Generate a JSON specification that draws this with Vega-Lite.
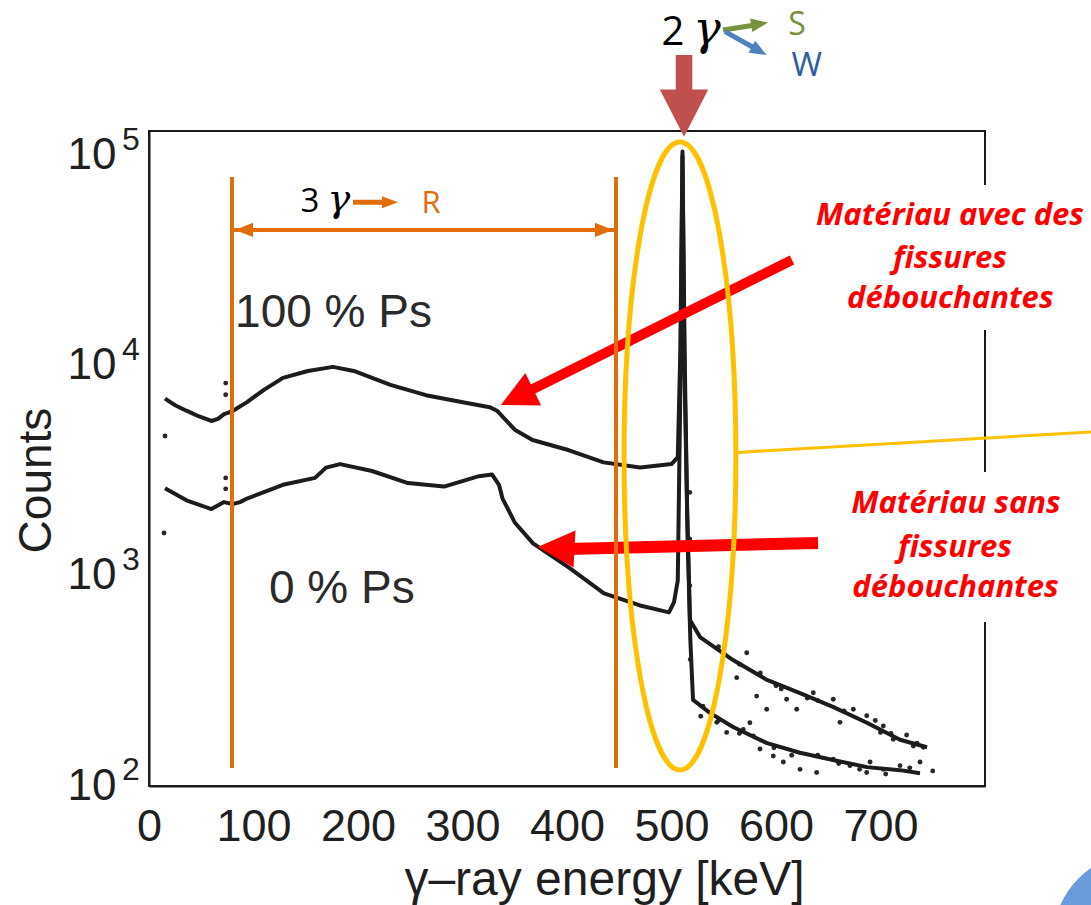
{
"$schema": "https://vega.github.io/schema/vega-lite/v6.json",
"width": 836, "height": 655,
"autosize": {"type": "none"},
"padding": {"left": 149, "top": 131, "right": 106, "bottom": 119},
"background": "white",
"config": {"view": {"stroke": "#1a1a1a", "strokeWidth": 2}},
"datasets": {
 "spectrum": [
  {"s":"100 % Ps","E":15.3,"C":6995},{"s":"100 % Ps","E":25,"C":6500},{"s":"100 % Ps","E":35.8,"C":6125},{"s":"100 % Ps","E":48,"C":5750},{"s":"100 % Ps","E":59.7,"C":5472},{"s":"100 % Ps","E":66,"C":5600},{"s":"100 % Ps","E":71.8,"C":5902},{"s":"100 % Ps","E":76,"C":6000},{"s":"100 % Ps","E":80.4,"C":6125},{"s":"100 % Ps","E":93.8,"C":6731},{"s":"100 % Ps","E":110,"C":7700},{"s":"100 % Ps","E":128.2,"C":8777},{"s":"100 % Ps","E":152,"C":9467},{"s":"100 % Ps","E":176,"C":9901},{"s":"100 % Ps","E":196,"C":9467},{"s":"100 % Ps","E":231,"C":8136},{"s":"100 % Ps","E":265,"C":7261},{"s":"100 % Ps","E":299,"C":6731},{"s":"100 % Ps","E":326,"C":6366},{"s":"100 % Ps","E":333,"C":6125},{"s":"100 % Ps","E":350,"C":4973},{"s":"100 % Ps","E":367,"C":4442},{"s":"100 % Ps","E":402,"C":3968},{"s":"100 % Ps","E":435,"C":3475},{"s":"100 % Ps","E":470,"C":3282},{"s":"100 % Ps","E":500,"C":3411},{"s":"100 % Ps","E":506,"C":3679},{"s":"100 % Ps","E":508.5,"C":12000},{"s":"100 % Ps","E":510.5,"C":105000},{"s":"100 % Ps","E":512.5,"C":12000},{"s":"100 % Ps","E":515,"C":2000},{"s":"100 % Ps","E":517.7,"C":617},{"s":"100 % Ps","E":527.3,"C":512},{"s":"100 % Ps","E":558.9,"C":398},{"s":"100 % Ps","E":591.4,"C":320},{"s":"100 % Ps","E":623,"C":277},{"s":"100 % Ps","E":654.5,"C":238},{"s":"100 % Ps","E":687,"C":200},{"s":"100 % Ps","E":718.7,"C":166},{"s":"100 % Ps","E":744.5,"C":153},
  {"s":"0 % Ps","E":15.3,"C":2616},{"s":"0 % Ps","E":35.8,"C":2294},{"s":"0 % Ps","E":59.7,"C":2084},{"s":"0 % Ps","E":71.8,"C":2248},{"s":"0 % Ps","E":80,"C":2200},{"s":"0 % Ps","E":87.1,"C":2248},{"s":"0 % Ps","E":93.8,"C":2337},{"s":"0 % Ps","E":128.2,"C":2719},{"s":"0 % Ps","E":158.9,"C":2932},{"s":"0 % Ps","E":169.4,"C":3282},{"s":"0 % Ps","E":182.8,"C":3411},{"s":"0 % Ps","E":213.4,"C":3162},{"s":"0 % Ps","E":247.8,"C":2770},{"s":"0 % Ps","E":282.3,"C":2666},{"s":"0 % Ps","E":315.8,"C":2987},{"s":"0 % Ps","E":328.2,"C":3043},{"s":"0 % Ps","E":334.9,"C":2719},{"s":"0 % Ps","E":338.3,"C":2337},{"s":"0 % Ps","E":350.2,"C":1792},{"s":"0 % Ps","E":367.5,"C":1430},{"s":"0 % Ps","E":401.9,"C":1096},{"s":"0 % Ps","E":435.4,"C":826},{"s":"0 % Ps","E":469.9,"C":724},{"s":"0 % Ps","E":497.6,"C":671},{"s":"0 % Ps","E":502.4,"C":751},{"s":"0 % Ps","E":506,"C":950},{"s":"0 % Ps","E":508.5,"C":8000},{"s":"0 % Ps","E":510.5,"C":100000},{"s":"0 % Ps","E":512.5,"C":9000},{"s":"0 % Ps","E":515.5,"C":1500},{"s":"0 % Ps","E":518,"C":500},{"s":"0 % Ps","E":520.6,"C":257},{"s":"0 % Ps","E":536.8,"C":223},{"s":"0 % Ps","E":558.9,"C":191},{"s":"0 % Ps","E":591.4,"C":160},{"s":"0 % Ps","E":623,"C":144},{"s":"0 % Ps","E":654.5,"C":133},{"s":"0 % Ps","E":687,"C":123},{"s":"0 % Ps","E":718.7,"C":119},{"s":"0 % Ps","E":737.8,"C":115}
 ],
 "dots": [
  {"E":73.4,"C":8289},{"E":73.4,"C":7300},{"E":73.4,"C":2932},{"E":73.4,"C":2600},{"E":15.3,"C":4640},{"E":14.4,"C":1603},
  {"E":517.5,"C":2500},{"E":517.5,"C":1500},{"E":517.5,"C":900},{"E":518,"C":400},
  {"E":572.0,"C":431},{"E":562.4,"C":328},{"E":581.5,"C":268},{"E":591.1,"C":232},{"E":610.2,"C":259},{"E":619.8,"C":232},{"E":635.7,"C":278},{"E":654.8,"C":259},{"E":661.2,"C":201},{"E":674.0,"C":232},{"E":686.8,"C":216},{"E":702.7,"C":193},{"E":712.2,"C":167},{"E":731.4,"C":155},{"E":741.0,"C":153},{"E":737.8,"C":130},{"E":718.7,"C":125},{"E":702.7,"C":120},{"E":686.8,"C":116},{"E":670.8,"C":125},{"E":654.8,"C":134},{"E":638.9,"C":116},{"E":623.0,"C":120},{"E":607.0,"C":130},{"E":597.4,"C":139},{"E":584.7,"C":150},{"E":578.3,"C":173},{"E":568.7,"C":186},{"E":552.8,"C":180},{"E":543.3,"C":201},
  {"E":545,"C":460},{"E":600,"C":300},{"E":640,"C":255},{"E":700,"C":180},{"E":725,"C":175},{"E":530,"C":240},{"E":575,"C":200},{"E":640,"C":140},{"E":690,"C":130},{"E":750,"C":118},
  {"E":550,"C":420},{"E":565,"C":380},{"E":585,"C":345},{"E":605,"C":290},{"E":630,"C":262},{"E":665,"C":228},{"E":695,"C":205},{"E":710,"C":178},{"E":735,"C":160},
  {"E":528,"C":215},{"E":545,"C":205},{"E":565,"C":178},{"E":598,"C":152},{"E":615,"C":140},{"E":660,"C":128},{"E":680,"C":120},{"E":705,"C":114},{"E":728,"C":122}
 ],
 "ymajor": [{"C":100},{"C":1000},{"C":10000},{"C":100000}],
 "yminor": [{"C":200},{"C":300},{"C":400},{"C":500},{"C":600},{"C":700},{"C":800},{"C":900},{"C":2000},{"C":3000},{"C":4000},{"C":5000},{"C":6000},{"C":7000},{"C":8000},{"C":9000},{"C":20000},{"C":30000},{"C":40000},{"C":50000},{"C":60000},{"C":70000},{"C":80000},{"C":90000}],
 "xmajor": [{"E":100},{"E":200},{"E":300},{"E":400},{"E":500},{"E":600},{"E":700}]
},
"encoding": {
 "x": {"field": "E", "type": "quantitative", "scale": {"domain": [0, 800], "nice": false, "zero": false},
  "axis": {"values": [0,100,200,300,400,500,600,700], "title": "γ–ray energy [keV]", "grid": false, "zindex": 1,
   "labelFont": "Liberation Sans", "labelFontSize": 45, "labelColor": "#1f1f1f", "labelPadding": 18, "labelFlush": false, "labelOverlap": false,
   "ticks": false, "domainColor": "#1a1a1a", "domainWidth": 2,
   "titleFont": "Liberation Sans", "titleFontSize": 48, "titleFontWeight": "normal", "titleColor": "#1f1f1f",
   "titleX": 455, "titleY": 94, "titleBaseline": "middle", "titleAlign": "center"}},
 "y": {"field": "C", "type": "quantitative", "scale": {"type": "log", "domain": [100, 131500], "nice": false},
  "axis": {"values": [100,1000,10000,100000],
   "labelExpr": "'10'",
   "grid": false, "zindex": 1, "labelFont": "Liberation Sans", "labelFontSize": 44, "labelColor": "#1f1f1f", "labelPadding": 33, "labelOverlap": false, "labelFlush": false,
   "ticks": false, "domainColor": "#1a1a1a", "domainWidth": 2,
   "title": "Counts", "titleFont": "Liberation Sans", "titleFontSize": 46, "titleFontWeight": "normal", "titleColor": "#1f1f1f",
   "titleX": -113, "titleY": 349, "titleAngle": -90, "titleBaseline": "middle", "titleAlign": "center"}}
},
"layer": [
 {"data": {"values": [{"E": 948.3, "C": 18.48}]}, "mark": {"type": "point", "shape": "circle", "filled": true, "size": 30276, "color": "#6A9BDA", "opacity": 1, "clip": false}},
 {"data": {"values": [{"E":623,"E2":901,"C":72780,"C2":14830},{"E":623,"E2":901,"C":3126,"C2":604}]}, "mark": {"type": "rect", "color": "white", "clip": false}, "encoding": {"x2": {"field": "E2"}, "y2": {"field": "C2"}}},
 {"data": {"name": "ymajor"}, "mark": {"type": "rule", "color": "#1a1a1a", "strokeWidth": 2}, "encoding": {"x": {"datum": 0}, "x2": {"datum": 12.4}}},
 {"data": {"name": "yminor"}, "mark": {"type": "rule", "color": "#1a1a1a", "strokeWidth": 2}, "encoding": {"x": {"datum": 0}, "x2": {"datum": 6.7}}},
 {"data": {"name": "xmajor"}, "mark": {"type": "rule", "color": "#1a1a1a", "strokeWidth": 2}, "encoding": {"y": {"datum": 100}, "y2": {"datum": 110.4}}},
 {"data": {"name": "spectrum"}, "mark": {"type": "line", "color": "#1c1c1c", "strokeWidth": 4, "strokeJoin": "round", "clip": false}, "encoding": {"detail": {"field": "s"}}},
 {"data": {"name": "dots"}, "mark": {"type": "circle", "size": 24, "color": "#1c1c1c", "opacity": 0.95, "clip": false}},
 {"data": {"values": [{"E":615.3,"C":31970,"E2":364.6,"C2":7644}]}, "mark": {"type": "rule", "color": "#FF0000", "strokeWidth": 10, "clip": false}, "encoding": {"x2": {"field": "E2"}, "y2": {"field": "C2"}}},
 {"data": {"values": [{"E":352.2,"C":7110}]}, "mark": {"type": "point", "shape": "M1,0L-1,-1L-1,1Z", "filled": true, "size": 1296, "angle": 154, "color": "#FF0000", "opacity": 1, "clip": false}},
 {"data": {"values": [{"E":640.2,"C":1436,"E2":400,"C2":1345}]}, "mark": {"type": "rule", "color": "#FF0000", "strokeWidth": 12, "clip": false}, "encoding": {"x2": {"field": "E2"}, "y2": {"field": "C2"}}},
 {"data": {"values": [{"E":389.5,"C":1360}]}, "mark": {"type": "point", "shape": "M1,0L-1,-1L-1,1Z", "filled": true, "size": 1369, "angle": 183, "color": "#FF0000", "opacity": 1, "clip": false}},
 {"data": {"values": [{"E":79.4,"C":79430,"C2":121.8},{"E":446.9,"C":79430,"C2":121.8}]}, "mark": {"type": "rule", "color": "#E36C0A", "strokeWidth": 4, "clip": false}, "encoding": {"y2": {"field": "C2"}}},
 {"data": {"values": [{"E":79.4,"E2":446.9,"C":44470}]}, "mark": {"type": "rule", "color": "#E36C0A", "strokeWidth": 4, "clip": false}, "encoding": {"x2": {"field": "E2"}}},
 {"data": {"values": [{"E":90.9,"C":44470}]}, "mark": {"type": "point", "shape": "M-1,0L1,-0.8L1,0.8Z", "filled": true, "size": 324, "color": "#E36C0A", "opacity": 1, "clip": false}},
 {"data": {"values": [{"E":435.4,"C":44470}]}, "mark": {"type": "point", "shape": "M1,0L-1,-0.8L-1,0.8Z", "filled": true, "size": 324, "color": "#E36C0A", "opacity": 1, "clip": false}},
 {"data": {"values": [{"E":195.2,"E2":226,"C":60190}]}, "mark": {"type": "rule", "color": "#E36C0A", "strokeWidth": 5, "clip": false}, "encoding": {"x2": {"field": "E2"}}},
 {"data": {"values": [{"E":230.6,"C":60190}]}, "mark": {"type": "point", "shape": "M1,0L-1,-0.75L-1,0.75Z", "filled": true, "size": 256, "color": "#E36C0A", "opacity": 1, "clip": false}},
 {"data": {"values": [{"E":508.1,"C":3727}]}, "mark": {"type": "point", "shape": "M0,-1C0.0983,-1 0.178,-0.5523 0.178,0C0.178,0.5523 0.0983,1 0,1C-0.0983,1 -0.178,0.5523 -0.178,0C-0.178,-0.5523 -0.0983,-1 0,-1Z", "filled": false, "size": 394384, "color": "#FFC000", "strokeWidth": 5, "opacity": 1, "clip": false}},
 {"data": {"values": [{"E":563.6,"C":3878,"E2":901.4,"C2":4851}]}, "mark": {"type": "rule", "color": "#FFC000", "strokeWidth": 3, "clip": false}, "encoding": {"x2": {"field": "E2"}, "y2": {"field": "C2"}}},
 {"data": {"values": [{"E":512,"C":193000}]}, "mark": {"type": "point", "shape": "M-0.173,-0.852L0.173,-0.852L0.173,-0.1375L0.504,-0.1375L0,0.85L-0.504,-0.1375L-0.173,-0.1375Z", "filled": true, "size": 9216, "color": "#C0504D", "opacity": 1, "clip": false}},
 {"data": {"values": [{"E":549.3,"C":398100,"E2":577,"C2":418000}]}, "mark": {"type": "rule", "color": "#76923C", "strokeWidth": 5, "clip": false}, "encoding": {"x2": {"field": "E2"}, "y2": {"field": "C2"}}},
 {"data": {"values": [{"E":584.3,"C":425300}]}, "mark": {"type": "point", "shape": "M1,0L-1,-0.8L-1,0.8Z", "filled": true, "size": 289, "angle": -9, "color": "#76923C", "opacity": 1, "clip": false}},
 {"data": {"values": [{"E":551.2,"C":390900,"E2":578,"C2":329600}]}, "mark": {"type": "rule", "color": "#4F81BD", "strokeWidth": 5, "clip": false}, "encoding": {"x2": {"field": "E2"}, "y2": {"field": "C2"}}},
 {"data": {"values": [{"E":584.0,"C":316600}]}, "mark": {"type": "point", "shape": "M1,0L-1,-0.8L-1,0.8Z", "filled": true, "size": 289, "angle": 29, "color": "#4F81BD", "opacity": 1, "clip": false}},
 {"data": {"values": [{"E":176.6,"C":15340,"t":"100 % Ps"},{"E":184.5,"C":743.6,"t":"0 % Ps"}]}, "mark": {"type": "text", "font": "Liberation Sans", "fontSize": 46, "color": "#2a2a2a", "align": "center", "baseline": "alphabetic", "clip": false}, "encoding": {"text": {"field": "t"}}},
 {"data": {"values": [{"E":766.5,"C":46930,"t":"Matériau avec des"},{"E":766.5,"C":29190,"t":"fissures"},{"E":766.8,"C":18830,"t":"débouchantes"},{"E":772.2,"C":1989,"t":"Matériau sans"},{"E":771.3,"C":1236,"t":"fissures"},{"E":771.8,"C":797,"t":"débouchantes"}]}, "mark": {"type": "text", "font": "Open Sans", "fontSize": 31, "fontWeight": "bold", "fontStyle": "italic", "color": "#FF0000", "align": "center", "baseline": "alphabetic", "clip": false}, "encoding": {"text": {"field": "t"}}},
 {"data": {"values": [{"E":501.4,"C":338000,"t":"2"}]}, "mark": {"type": "text", "font": "Open Sans", "fontSize": 40, "color": "#000000", "align": "center", "baseline": "alphabetic", "clip": false}, "encoding": {"text": {"field": "t"}}},
 {"data": {"values": [{"E":620.1,"C":375000,"t":"S"}]}, "mark": {"type": "text", "font": "Open Sans", "fontSize": 32, "color": "#76923C", "align": "center", "baseline": "alphabetic", "clip": false}, "encoding": {"text": {"field": "t"}}},
 {"data": {"values": [{"E":629.4,"C":240000,"t":"W"}]}, "mark": {"type": "text", "font": "Open Sans", "fontSize": 33, "color": "#2E5E9E", "align": "center", "baseline": "alphabetic", "clip": false}, "encoding": {"text": {"field": "t"}}},
 {"data": {"values": [{"E":154.1,"C":54300,"t":"3"}]}, "mark": {"type": "text", "font": "Open Sans", "fontSize": 33, "color": "#000000", "align": "center", "baseline": "alphabetic", "clip": false}, "encoding": {"text": {"field": "t"}}},
 {"data": {"values": [{"E":269.9,"C":53400,"t":"R"}]}, "mark": {"type": "text", "font": "Open Sans", "fontSize": 31, "color": "#E36C0A", "align": "center", "baseline": "alphabetic", "clip": false}, "encoding": {"text": {"field": "t"}}},
 {"data": {"values": [{"E":534,"C":341000,"t":"γ"}]}, "mark": {"type": "text", "font": "DejaVu Serif", "fontStyle": "italic", "fontSize": 46, "color": "#000000", "align": "center", "baseline": "alphabetic", "clip": false}, "encoding": {"text": {"field": "t"}}},
 {"data": {"values": [{"E":181.8,"C":54500,"t":"γ"}]}, "mark": {"type": "text", "font": "DejaVu Serif", "fontStyle": "italic", "fontSize": 38, "color": "#000000", "align": "center", "baseline": "alphabetic", "clip": false}, "encoding": {"text": {"field": "t"}}},
 {"data": {"values": [{"E":-25.8,"C":100,"t":"2"},{"E":-25.8,"C":1000,"t":"3"},{"E":-25.8,"C":10000,"t":"4"},{"E":-25.8,"C":100000,"t":"5"}]}, "mark": {"type": "text", "font": "Liberation Sans", "fontSize": 32, "color": "#1f1f1f", "align": "left", "baseline": "middle", "dy": -16, "clip": false}, "encoding": {"text": {"field": "t"}}}
]
}
